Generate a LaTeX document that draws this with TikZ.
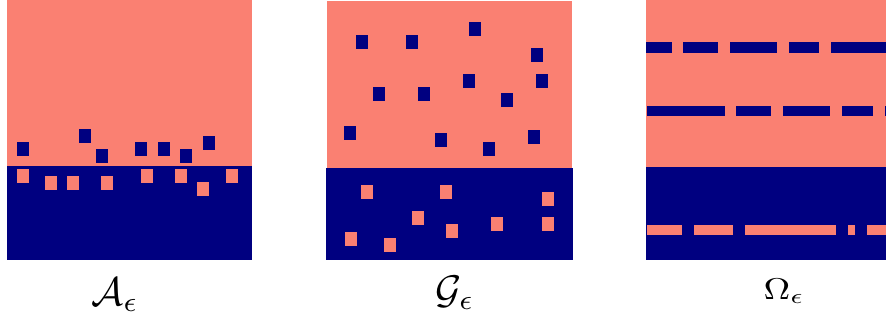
\documentclass[tikz,border=0pt]{standalone}
\usepackage{amsmath,amssymb}
\usepackage{xcolor}
\usepackage{tikz}

\definecolor{salmon}{RGB}{250,128,114}
\definecolor{navy}{RGB}{0,0,128}

\begin{document}
\begin{tikzpicture}[x=1pt,y=-1pt]
  \useasboundingbox (0,0) rectangle (886,322);
  % panel A: interface with squares near it
  \fill[salmon] (7,0) rectangle (252,166);
  \fill[navy] (7,166) rectangle (252,260);
  \foreach \x/\y in {17/142,79/129,96/149,135/142,158/142,180/149,203/136}
    \fill[navy] (\x,\y) rectangle ++(12,14);
  \foreach \x/\y in {17/169,45/176,67/176,101/176,141/169,175/169,197/182,226/169}
    \fill[salmon] (\x,\y) rectangle ++(12,14);
  \node[anchor=base,scale=4] (labA) at (115,305) {$\mathcal{A}_\epsilon$};
  % panel G: squares spread everywhere
  \fill[salmon] (327,1) rectangle (572,168);
  \fill[navy] (326,168) rectangle (573,260);
  \foreach \x/\y in {356/35,406/35,469/22,531/48,373/87,418/87,463/74,536/74,501/93,
                     344/126,435/133,483/142,528/130}
    \fill[navy] (\x,\y) rectangle ++(12,14);
  \foreach \x/\y in {361/185,440/185,542/192,412/211,446/224,491/217,542/217,345/232,384/238}
    \fill[salmon] (\x,\y) rectangle ++(12,14);
  \node[anchor=base,scale=4] (labG) at (455,303) {$\mathcal{G}_\epsilon$};
  % panel Omega: broken layers
  \fill[salmon] (646,0) rectangle (886,167);
  \fill[navy] (646,167) rectangle (886,260);
  \foreach \a/\b in {646/672,683/718,730/777,789/819,831/886}
    \fill[navy] (\a,42) rectangle (\b,53);
  \foreach \a/\b in {647/725,736/771,783/830,842/873,885/886}
    \fill[navy] (\a,106) rectangle (\b,116);
  \foreach \a/\b in {647/682,694/733,745/836,848/855,867/886}
    \fill[salmon] (\a,225) rectangle (\b,235);
  \node[anchor=base,xscale=3.7,yscale=3] (labO) at (784,299) {$\Omega_\epsilon$};
\end{tikzpicture}
\end{document}
